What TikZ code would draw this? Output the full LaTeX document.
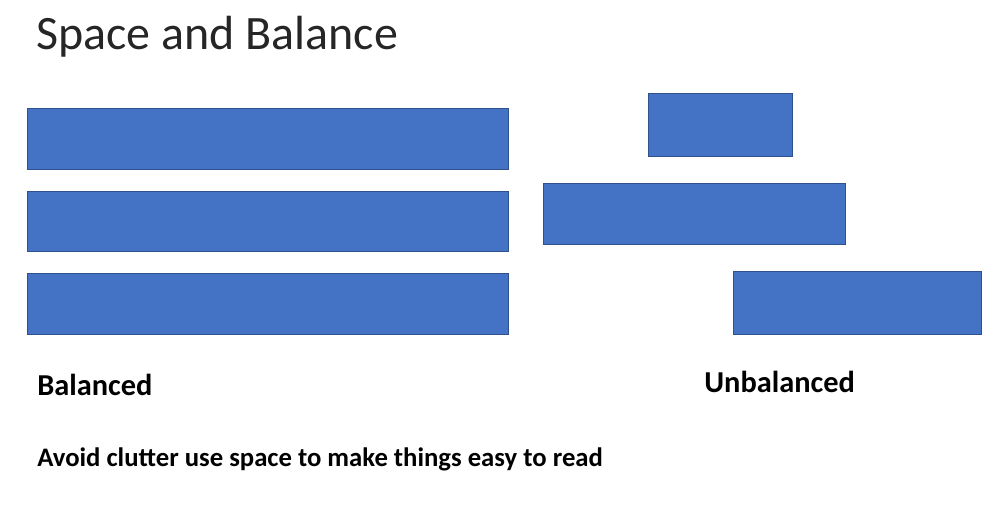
\documentclass[tikz,border=0pt]{standalone}
\usepackage{fontspec}
\setmainfont{Carlito}
\usetikzlibrary{positioning}
\definecolor{barfill}{RGB}{68, 114, 196}
\definecolor{bardraw}{RGB}{47, 82, 143}
\tikzset{
  bar/.style={rectangle, fill=barfill, draw=bardraw, line width=0.6pt, anchor=north west, inner sep=0pt},
  title/.style={anchor=base west, inner sep=0pt, text=black!85, font=\fontsize{27.3}{32}\selectfont},
  caption/.style={anchor=base west, inner sep=0pt, font=\fontsize{17.3}{21}\selectfont\bfseries},
  note/.style={anchor=base west, inner sep=0pt, font=\fontsize{15.2}{18}\selectfont\bfseries}
}

\begin{document}
\begin{tikzpicture}[x=0.02cm, y=-0.02cm]

  \useasboundingbox (0,0) rectangle (1002,507);

  \node[title] (heading) at (36,50) {Space and Balance};

  % balanced bars
  \node[bar, minimum width=9.62cm, minimum height=1.22cm] (bal1) at (27,108) {};
  \node[bar, minimum width=9.62cm, minimum height=1.20cm] (bal2) at (27,191) {};
  \node[bar, minimum width=9.62cm, minimum height=1.22cm] (bal3) at (27,273) {};

  % unbalanced bars
  \node[bar, minimum width=2.88cm, minimum height=1.26cm] (unb1) at (648,93) {};
  \node[bar, minimum width=6.04cm, minimum height=1.22cm] (unb2) at (543,183) {};
  \node[bar, minimum width=4.96cm, minimum height=1.26cm] (unb3) at (733,271) {};

  \node[caption] (ballabel) at (37,395) {Balanced};
  \node[caption] (unblabel) at (704,392) {Unbalanced};

  \node[note] (advice) at (37,466) {Avoid clutter use space to make things easy to read};

\end{tikzpicture}
\end{document}
